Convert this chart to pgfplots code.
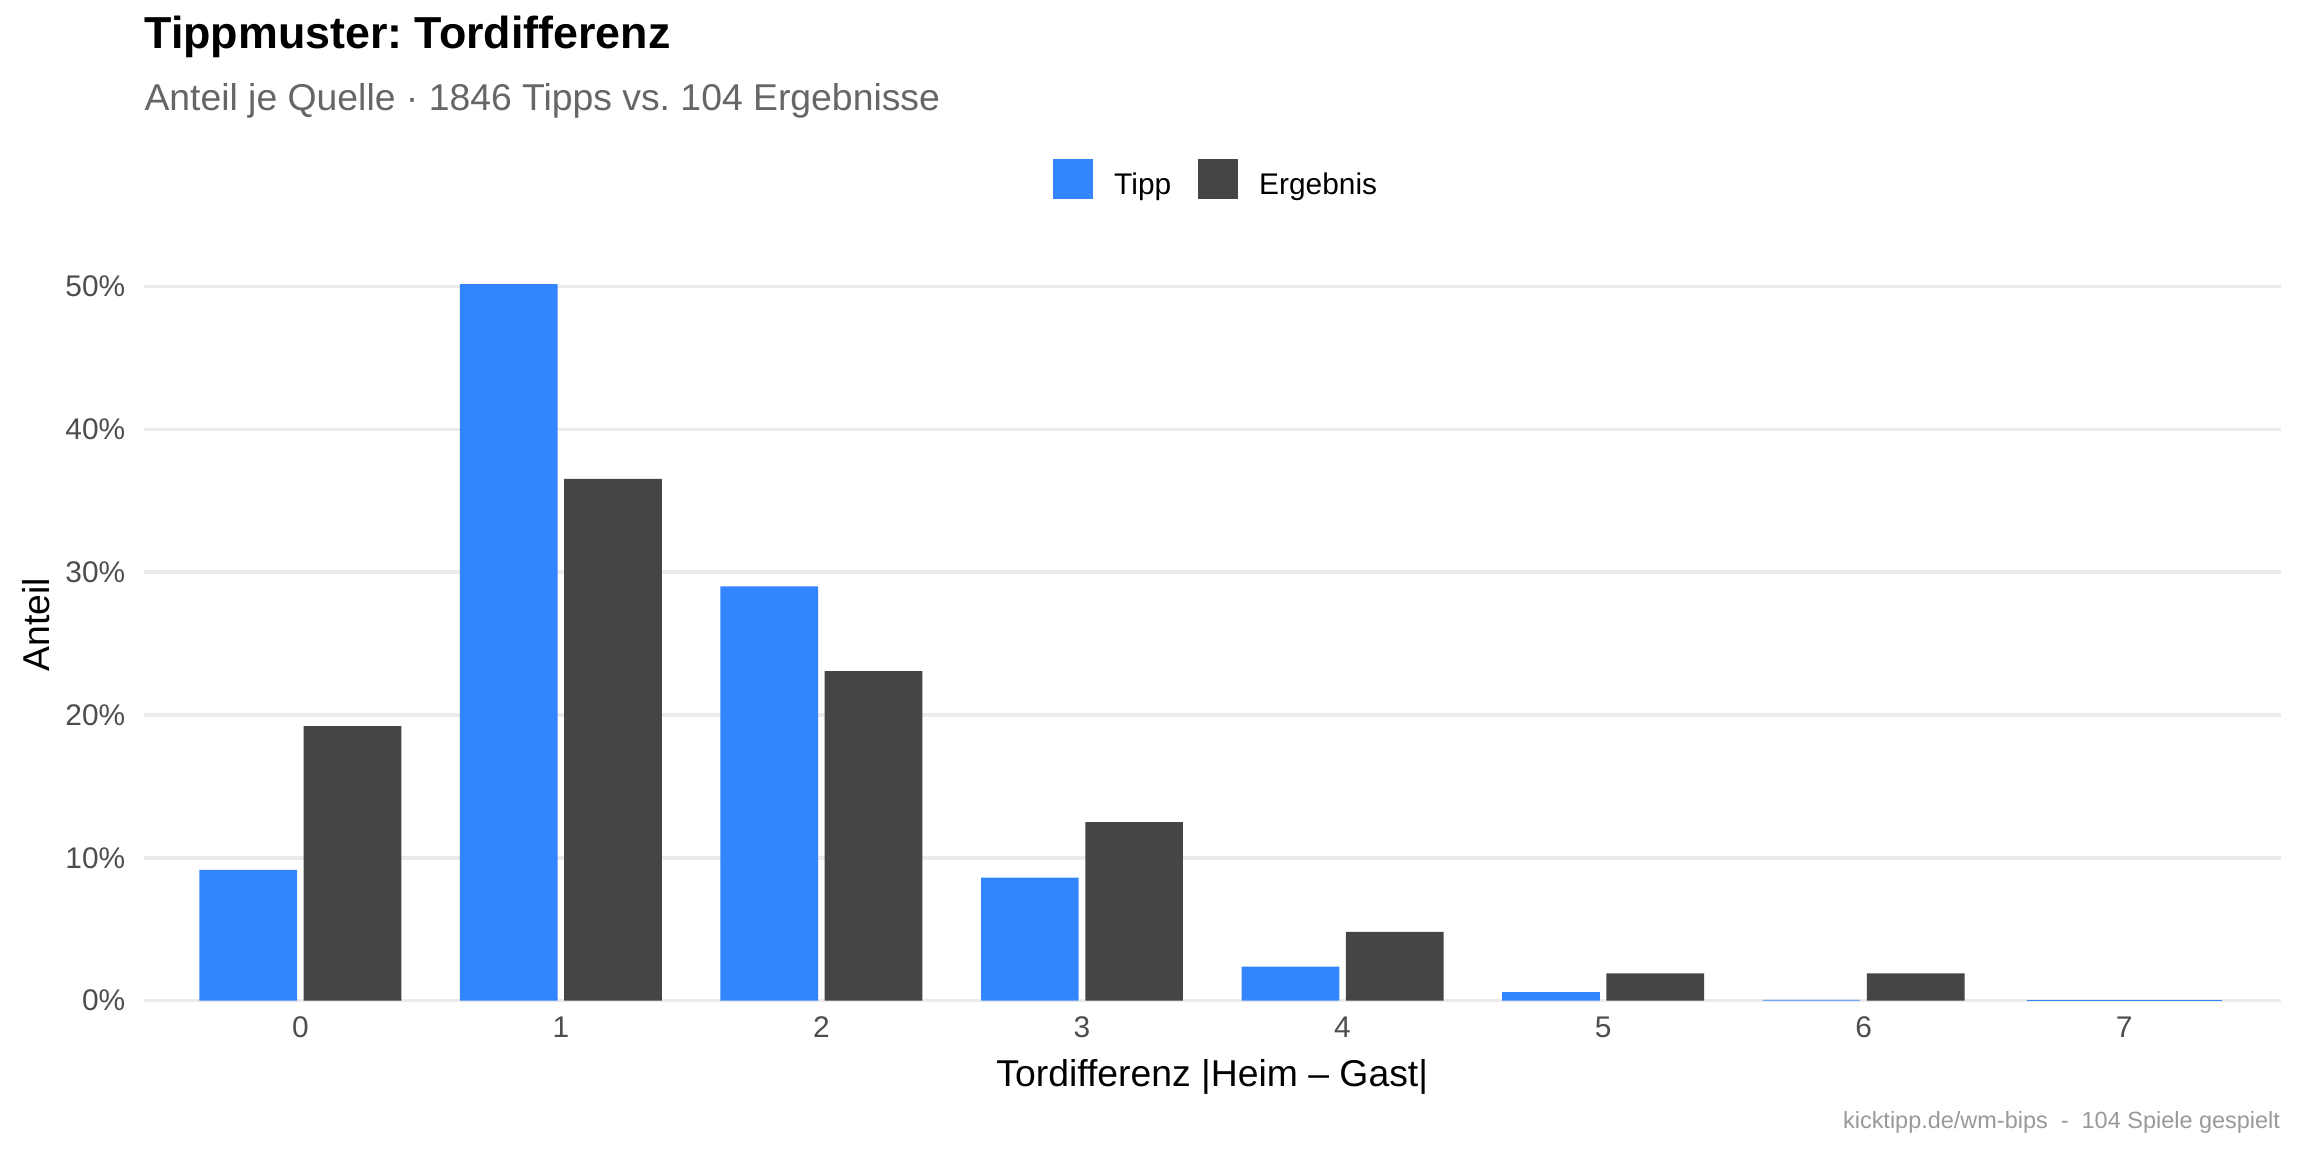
\documentclass[border=0pt]{standalone}
\usepackage{pgfplots}
\pgfplotsset{compat=1.18}
\usepackage{fontspec}
\setmainfont{Liberation Sans}
\frenchspacing
\definecolor{tipp}{HTML}{3385FF}
\definecolor{erg}{HTML}{454545}
\definecolor{gridc}{HTML}{EBEBEB}
\definecolor{tickc}{HTML}{4D4D4D}
\definecolor{subc}{HTML}{666666}
\definecolor{capc}{HTML}{999999}
\begin{document}
\begin{tikzpicture}
\path (0,0) rectangle (864pt,432pt);
\node[anchor=base west, inner sep=0pt, font=\bfseries\fontsize{16.8}{20}\selectfont] at (54pt,413.8pt) {Tippmuster: Tordifferenz};
\node[anchor=base west, inner sep=0pt, text=subc, font=\fontsize{14}{16}\selectfont] at (54pt,390.7pt) {Anteil je Quelle · 1846 Tipps vs. 104 Ergebnisse};
\node[anchor=base east, inner sep=0pt, text=capc, font=\fontsize{8.8}{10}\selectfont] at (855.2pt,8.8pt) {kicktipp.de/wm-bips\ \ -\ \ 104 Spiele gespielt};
\begin{axis}[
  at={(54pt,56.75pt)}, anchor=south west,
  scale only axis, width=801.2pt, height=282.1pt,
  xmin=-0.6, xmax=7.6, ymin=0, ymax=52.67,
  enlargelimits=false,
  xtick={0,1,...,7}, ytick={0,10,...,50},
  yticklabel={\pgfmathprintnumber{\tick}\%},
  /pgf/number format/assume math mode=true,
  axis line style={draw=none}, major tick length=0pt,
  ymajorgrids, grid style={gridc, line width=1.3pt},
  tick label style={font=\fontsize{11.2}{13}\selectfont, text=tickc},
  xticklabel style={yshift=-2.5pt},
  yticklabel style={xshift=-3.5pt},
  xlabel={Tordifferenz |Heim – Gast|},
  ylabel={Anteil},
  label style={font=\fontsize{14}{16}\selectfont},
  xlabel style={at={(axis description cs:0.5,0)}, anchor=base, yshift=-32pt},
  ylabel style={at={(axis description cs:-0.0440,0.5)}, anchor=base},
  legend columns=2,
  legend style={at={(axis description cs:0.5014,1.0879)}, anchor=center, draw=none, fill=none,
    inner sep=0pt, outer sep=0pt, font=\fontsize{11.2}{13}\selectfont,
    nodes={inner sep=0pt},
    /tikz/every odd column/.style={column sep=7.9pt},
    /tikz/every even column/.style={column sep=10.2pt}},
]
\addplot[ybar, bar width=0.375, bar shift=-0.2, fill=tipp, draw=none,
  legend image code/.code={\fill[tipp] (0pt,-3.45pt) rectangle (14.9pt,11.45pt);}]
  coordinates {(0,9.16) (1,50.16) (2,29.0) (3,8.62) (4,2.38) (5,0.60) (6,0.054)};
\addlegendentry{\raisebox{2.7pt}{Tipp}}
\addplot[ybar, bar width=0.375, bar shift=0.2, fill=erg, draw=none,
  legend image code/.code={\fill[erg] (0pt,-3.45pt) rectangle (14.9pt,11.45pt);}]
  coordinates {(0,19.23) (1,36.54) (2,23.08) (3,12.50) (4,4.81) (5,1.92) (6,1.92)};
\addlegendentry{\raisebox{2.7pt}{Ergebnis}}
\addplot[ybar, bar width=0.75, bar shift=0, fill=tipp, draw=none, forget plot]
  coordinates {(7,0.054)};
\end{axis}
\end{tikzpicture}
\end{document}
